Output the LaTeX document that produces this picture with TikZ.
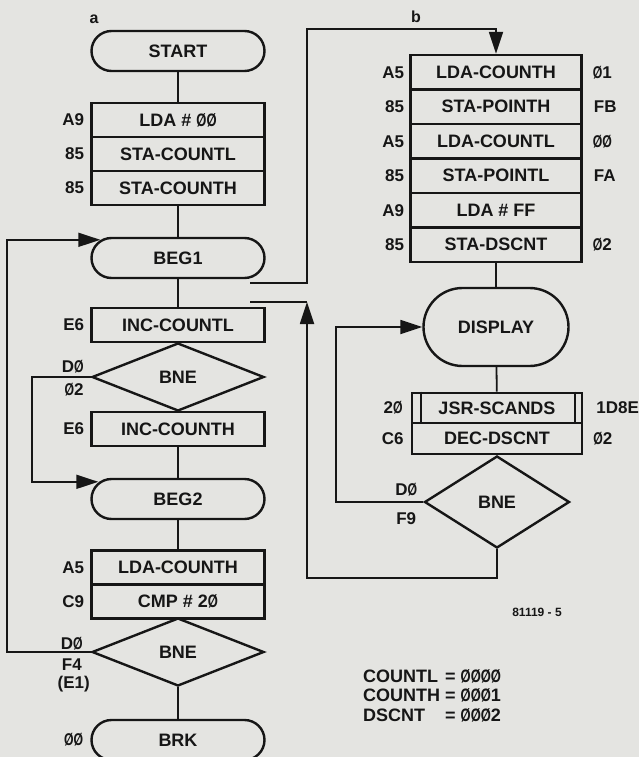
\documentclass[tikz,border=0pt]{standalone}
\usepackage{fontspec}
\setmainfont{Liberation Sans}
\usepackage{graphicx}
\usetikzlibrary{arrows.meta,shapes.geometric,calc}

\definecolor{paper}{RGB}{228,228,225}
\definecolor{ink}{RGB}{22,22,22}

% перечёркнутый ноль
\newcommand{\zerosl}{\scalebox{0.72}[1]{Ø}}

\tikzset{
  box/.style={draw=ink, line width=2.4pt, minimum width=173pt, minimum height=34pt,
    inner sep=0pt, text=ink, font=\fontsize{18}{20}\selectfont\bfseries},
  term/.style={box, rounded corners=20pt, minimum height=40pt},
  cond/.style={draw=ink, diamond, line width=2.4pt, inner sep=0pt, text=ink,
    font=\fontsize{18}{20}\selectfont\bfseries},
  lbl/.style={inner sep=0pt, text=ink, font=\fontsize{17}{19}\selectfont\bfseries},
  lblL/.style={lbl, anchor=east},
  lblR/.style={lbl, anchor=west},
  conn/.style={draw=ink, line width=1.8pt},
  arr/.style={conn, -{Triangle[length=22pt,width=14pt]}},
}

\begin{document}
\begin{tikzpicture}[x=1pt,y=-1pt]
	% фон
	\fill[paper] (0,0) rectangle (639,757);
	\useasboundingbox (0,0) rectangle (639,757);

	% схема a
	\node[lbl, font=\fontsize{16}{18}\selectfont\bfseries] (capA) at (94,19) {a};
	\node[term] (start) at (178,51) {START};
	\node[box] (lda0) at (178,120) {LDA \# \zerosl\zerosl};
	\node[box] (staL) at (178,154) {STA-COUNTL};
	\node[box] (staH) at (178,188) {STA-COUNTH};
	\node[term] (beg1) at (178,258) {BEG1};
	\node[box] (incL) at (178,325) {INC-COUNTL};
	\node[cond, minimum width=172pt, minimum height=68pt] (bne1) at (178,377) {BNE};
	\node[box] (incH) at (178,429) {INC-COUNTH};
	\node[term] (beg2) at (178,499) {BEG2};
	\node[box] (ldaH) at (178,567.5) {LDA-COUNTH};
	\node[box] (cmp) at (178,601.5) {CMP \# 2\zerosl};
	\node[cond, minimum width=172pt, minimum height=68pt] (bne2) at (178,652) {BNE};
	\node[term] (brk) at (178,740) {BRK};

	% коды слева
	\node[lblL] (cA9) at ([xshift=-6pt]lda0.west) {A9};
	\node[lblL] (c85a) at ([xshift=-6pt]staL.west) {85};
	\node[lblL] (c85b) at ([xshift=-6pt]staH.west) {85};
	\node[lblL] (cE6a) at ([xshift=-6pt]incL.west) {E6};
	\node[lblL] (cD0a) at ([xshift=-7pt,yshift=10pt]bne1.west) {D\zerosl};
	\node[lblL] (c02a) at ([xshift=-7pt,yshift=-13pt]bne1.west) {\zerosl2};
	\node[lblL] (cE6b) at ([xshift=-6pt]incH.west) {E6};
	\node[lblL] (cA5a) at ([xshift=-6pt]ldaH.west) {A5};
	\node[lblL] (cC9) at ([xshift=-6pt]cmp.west) {C9};
	\node[lblL] (cD0b) at ([xshift=-8pt,yshift=8pt]bne2.west) {D\zerosl};
	\node[lbl] (cF4) at ([xshift=-19pt,yshift=-13pt]bne2.west) {F4};
	\node[lbl] (cE1) at ([xshift=-17pt,yshift=-32pt]bne2.west) {(E1)};
	\node[lblL] (c00) at ([xshift=-7pt]brk.west) {\zerosl\zerosl};

	% связи a
	\draw[conn] (start) -- (lda0);
	\draw[conn] (staH) -- (beg1);
	\draw[conn] (beg1) -- (incL);
	\draw[conn] (incH) -- (beg2);
	\draw[conn] (beg2) -- (ldaH);
	\draw[conn] (bne2) -- (brk);
	\draw[arr] (bne2.west) -- ++(-84,0) |- ([xshift=10pt,yshift=-3pt]beg1.north west);
	\draw[arr] (bne1.west) -- ++(-59,0) |- ([xshift=8pt,yshift=-4pt]beg2.north west);

	% схема b
	\node[lbl, font=\fontsize{16}{18}\selectfont\bfseries] (capB) at (416,17) {b};
	\node[box, minimum width=171pt, minimum height=34.5pt] (r1) at (496,72.25) {LDA-COUNTH};
	\node[box, minimum width=171pt, minimum height=34.5pt] (r2) at (496,106.75) {STA-POINTH};
	\node[box, minimum width=171pt, minimum height=34.5pt] (r3) at (496,141.25) {LDA-COUNTL};
	\node[box, minimum width=171pt, minimum height=34.5pt] (r4) at (496,175.75) {STA-POINTL};
	\node[box, minimum width=171pt, minimum height=34.5pt] (r5) at (496,210.25) {LDA \# FF};
	\node[box, minimum width=171pt, minimum height=34.5pt] (r6) at (496,244.75) {STA-DSCNT};
	\node[term, minimum width=145pt, minimum height=78pt, rounded corners=39pt] (disp) at (496,327) {DISPLAY};
	\node[box, minimum width=170pt, minimum height=30.5pt] (jsr) at (497,408) {JSR-SCANDS};
	\node[box, minimum width=170pt, minimum height=30.5pt] (dec) at (497,438.5) {DEC-DSCNT};
	\node[cond, minimum width=145pt, minimum height=92pt] (bne3) at (497,502) {BNE};

	% подпрограмма
	\draw[conn, line width=2pt] ([xshift=10pt]jsr.north west) -- ([xshift=10pt]jsr.south west);
	\draw[conn, line width=2pt] ([xshift=-8pt]jsr.north east) -- ([xshift=-8pt]jsr.south east);

	% коды b
	\node[lblL] (bA5a) at ([xshift=-5pt]r1.west) {A5};
	\node[lblL] (b85a) at ([xshift=-5pt]r2.west) {85};
	\node[lblL] (bA5b) at ([xshift=-5pt]r3.west) {A5};
	\node[lblL] (b85b) at ([xshift=-5pt]r4.west) {85};
	\node[lblL] (bA9) at ([xshift=-5pt]r5.west) {A9};
	\node[lblL] (b85c) at ([xshift=-5pt]r6.west) {85};
	\node[lblR] (b01) at ([xshift=10pt]r1.east) {\zerosl1};
	\node[lblR] (bFB) at ([xshift=11pt]r2.east) {FB};
	\node[lblR] (b00) at ([xshift=10pt]r3.east) {\zerosl\zerosl};
	\node[lblR] (bFA) at ([xshift=11pt]r4.east) {FA};
	\node[lblR] (b02a) at ([xshift=10pt]r6.east) {\zerosl2};
	\node[lblL] (b20) at ([xshift=-8pt]jsr.west) {2\zerosl};
	\node[lblR] (b1D8E) at ([xshift=13pt]jsr.east) {1D8E};
	\node[lblL] (bC6) at ([xshift=-7pt]dec.west) {C6};
	\node[lblR] (b02b) at ([xshift=10pt]dec.east) {\zerosl2};
	\node[lblL] (bD0) at ([xshift=-6pt,yshift=12pt]bne3.west) {D\zerosl};
	\node[lblL] (bF9) at ([xshift=-7pt,yshift=-17pt]bne3.west) {F9};

	% связи b
	\coordinate (jsrOut) at (250,283);
	\coordinate (jsrIn) at (250,302);
	\coordinate (retUp) at (307,302);
	\draw[arr] (jsrOut) -- ++(57,0) |- ($(r1.north)+(0,-25)$) -- (r1.north);
	\draw[conn] (r6) -- (disp);
	\draw[conn] (disp) -- (jsr);
	\draw[arr] (bne3.west) -- ++(-87,0) |- (disp.west);
	\draw[arr] (bne3.south) -- ++(0,29) -| (retUp);
	\draw[conn] (retUp) -- (jsrIn);

	% подписи
	\node[lbl, font=\fontsize{12}{14}\selectfont\bfseries] (figNo) at (537,612) {81119 - 5};
	\node[lblR, font=\fontsize{18}{19.5}\selectfont\bfseries] (vars) at (363,698)
		{\begin{tabular}{@{}l@{ }l@{}}
			COUNTL & = \zerosl\zerosl\zerosl\zerosl\\
			COUNTH & = \zerosl\zerosl\zerosl1\\
			DSCNT  & = \zerosl\zerosl\zerosl2
		\end{tabular}};
\end{tikzpicture}
\end{document}
